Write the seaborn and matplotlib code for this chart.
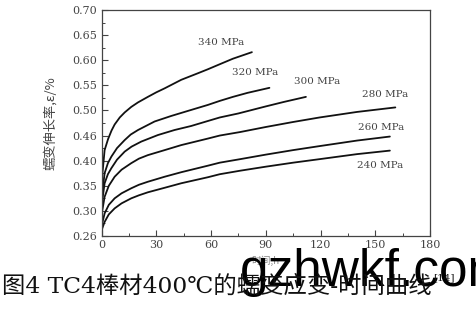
import matplotlib
matplotlib.use("Agg")
import matplotlib.pyplot as plt
import seaborn as sns
import pandas as pd
from matplotlib.ticker import MultipleLocator, FixedLocator

# ---- data ----
t_340 = [0, 0.4, 1.7, 3.6, 5.5, 7.2, 10, 12.7, 16.3, 20, 25.4, 30, 34.6, 43.7, 52.8, 58.3, 64.8, 72, 82.4]
e_340 = [0.285, 0.37, 0.421, 0.443, 0.460, 0.472, 0.486, 0.496, 0.507, 0.516, 0.527, 0.536, 0.544, 0.561, 0.574, 0.582, 0.592, 0.603, 0.616]

t_320 = [0, 0.4, 1.7, 3.5, 5.4, 8.5, 12.7, 16, 20, 29.1, 38.2, 47.3, 58.3, 64.8, 72, 80, 92]
e_320 = [0.272, 0.335, 0.375, 0.395, 0.408, 0.425, 0.441, 0.452, 0.461, 0.478, 0.489, 0.499, 0.511, 0.519, 0.527, 0.535, 0.545]

t_300 = [0, 0.4, 1.7, 3.5, 5.4, 8.5, 12.7, 16.5, 21.8, 30.9, 40, 49.1, 58.3, 64.8, 75, 90, 100, 112]
e_300 = [0.268, 0.32, 0.355, 0.373, 0.385, 0.402, 0.418, 0.428, 0.438, 0.451, 0.461, 0.469, 0.479, 0.486, 0.494, 0.508, 0.517, 0.527]

t_280 = [0, 0.4, 1.7, 4, 7.2, 11, 16.3, 20.5, 25.4, 34.6, 43.7, 58.3, 64.8, 76, 90, 105, 119.5, 140, 161]
e_280 = [0.264, 0.30, 0.328, 0.350, 0.368, 0.382, 0.395, 0.404, 0.411, 0.421, 0.431, 0.444, 0.450, 0.457, 0.467, 0.477, 0.486, 0.497, 0.506]

t_260 = [0, 0.4, 1.7, 4, 7.2, 11, 16.3, 20.5, 25.4, 34.6, 43.7, 58.3, 64.8, 76, 90, 105, 119.5, 140, 158]
e_260 = [0.258, 0.275, 0.295, 0.312, 0.325, 0.335, 0.345, 0.352, 0.358, 0.368, 0.377, 0.390, 0.396, 0.403, 0.412, 0.421, 0.429, 0.440, 0.448]

t_240 = [0, 0.4, 1.7, 4, 7.2, 11, 16.3, 20.5, 25.4, 34.6, 43.7, 58.3, 64.8, 76, 90, 105, 119.5, 140, 158]
e_240 = [0.254, 0.265, 0.278, 0.293, 0.305, 0.315, 0.325, 0.331, 0.337, 0.346, 0.355, 0.367, 0.373, 0.380, 0.388, 0.396, 0.403, 0.413, 0.420]

series_names = ["340 MPa", "320 MPa", "300 MPa", "280 MPa", "260 MPa", "240 MPa"]
series_t = [t_340, t_320, t_300, t_280, t_260, t_240]
series_e = [e_340, e_320, e_300, e_280, e_260, e_240]
label_pos = [(52.8, 0.636), (71.4, 0.576), (105.3, 0.557), (142.5, 0.531), (140.3, 0.467), (139.8, 0.391)]

xticks = [0, 30, 60, 90, 120, 150, 180]
yticks = [0.25, 0.30, 0.35, 0.40, 0.45, 0.50, 0.55, 0.60, 0.65, 0.70]
ytick_labels = ["0.26", "0.30", "0.35", "0.40", "0.46", "0.50", "0.55", "0.60", "0.65", "0.70"]

xlabel = "时间,h"
ylabel = "蠕变伸长率,ε/%"
caption = "图4 TC4棒材400℃的蠕变应变-时间曲线"
caption_ref = "[14]"
watermark = "gzhwkf.com"

# ---- build table ----
rows = []
for name, ts, es in zip(series_names, series_t, series_e):
    for t, e in zip(ts, es):
        rows.append({"t": t, "e": e, "s": name})
df = pd.DataFrame(rows)

sns.set_theme(style="ticks")
plt.rcParams['font.family'] = ['DejaVu Serif', 'Noto Sans CJK SC']

fig = plt.figure(figsize=(4.77, 3.16), dpi=100)
ax = fig.add_axes([0.2128, 0.2532, 0.6887, 0.7152])

sns.lineplot(data=df, x="t", y="e", units="s", estimator=None, sort=False,
             color="#111111", linewidth=1.3, ax=ax, legend=False)

ax.set_xlim(0, 180)
ax.set_ylim(0.25, 0.70)
ax.xaxis.set_major_locator(FixedLocator(xticks))
ax.xaxis.set_minor_locator(MultipleLocator(15))
ax.yaxis.set_major_locator(FixedLocator(yticks))
ax.yaxis.set_minor_locator(MultipleLocator(0.025))
ax.set_yticklabels(ytick_labels)
ax.set_xticklabels([str(v) for v in xticks])

ax.tick_params(which="both", direction="in", colors="#444444", labelcolor="#444444",
               top=False, right=False)
ax.tick_params(which="major", length=4, width=0.8, labelsize=8, pad=3)
ax.tick_params(which="minor", length=2.5, width=0.7)
for sp in ax.spines.values():
    sp.set_color("#444444")
    sp.set_linewidth(0.9)

ax.set_xlabel(xlabel, family=['Noto Sans CJK SC', 'DejaVu Sans'], fontsize=7, color="#888888", labelpad=4)
ax.set_ylabel(ylabel, family=['Noto Sans CJK SC', 'DejaVu Serif'], fontsize=9.5, color="#444444", labelpad=11)

for name, (x, y) in zip(series_names, label_pos):
    ax.text(x, y, name, fontsize=7.5, color="#444444", ha="left", va="center",
            family=['DejaVu Serif'])

fig.text(0.503, 0.095, watermark, fontsize=37, color="#000000", ha="left", va="baseline",
         family=['Liberation Sans'], zorder=1)
cap = fig.text(0.005, 0.074, caption, fontsize=16.8, color="#111111", ha="left", va="baseline",
               family=['DejaVu Serif', 'Noto Sans CJK SC'], zorder=5)
fig.canvas.draw()
bb = cap.get_window_extent(renderer=fig.canvas.get_renderer())
x_ref = bb.x1 / fig.bbox.width + 0.003
fig.text(x_ref, 0.112, caption_ref, fontsize=7.5, color="#111111", ha="left", va="baseline",
         family=['DejaVu Serif'], zorder=5)

fig.savefig("out.png", dpi=100)
